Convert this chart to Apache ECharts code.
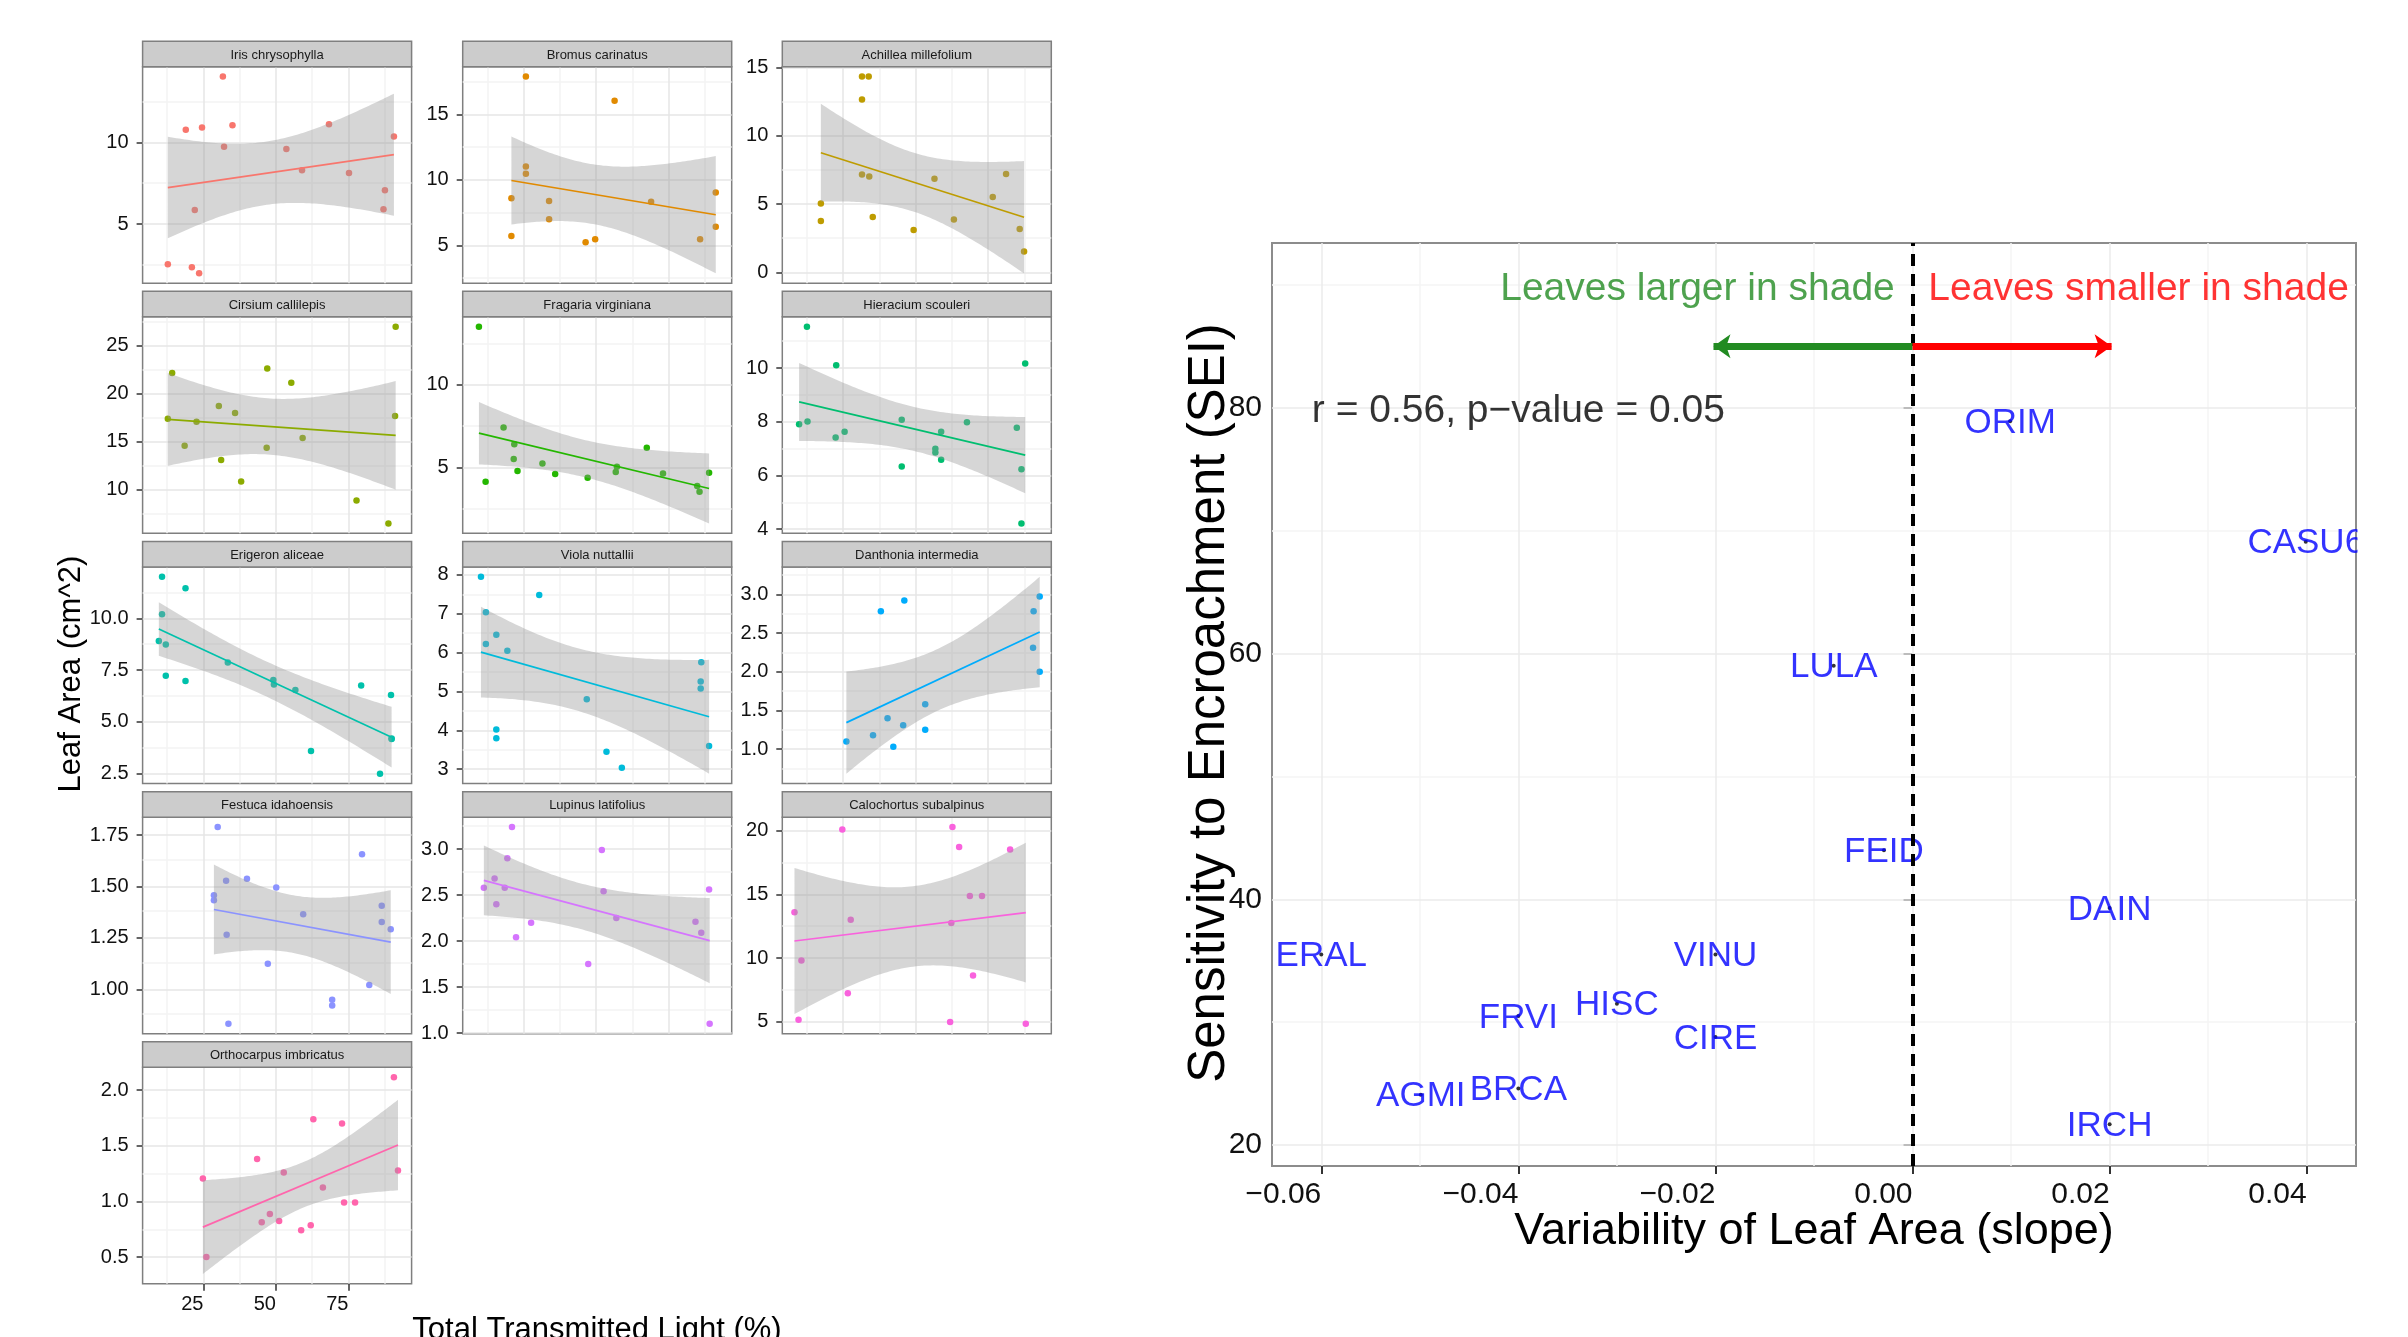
<!DOCTYPE html>
<html>
<head>
<meta charset="utf-8">
<title>Leaf area and light / sensitivity to encroachment</title>
<script src="https://cdn.jsdelivr.net/npm/echarts@6/dist/echarts.min.js"></script>
<style>
  html, body { margin: 0; padding: 0; background: #fff; overflow: hidden; }
  #main { width: 2408px; height: 1337px; }
</style>
</head>
<body>
<div id="main"></div>
<script>
// ---------- left: leaf area (cm^2) vs total transmitted light (%) ----------
const irisX = [12.7, 18.9, 21.0, 22.0, 23.5, 24.5, 31.7, 32.1, 35.0, 53.6, 59.0, 68.3, 75.2, 87.1, 87.6, 90.7];
const irisY = [2.53, 10.76, 2.35, 5.86, 1.98, 10.9, 14.02, 9.73, 11.04, 9.59, 8.29, 11.10, 8.12, 5.9, 7.06, 10.35];
const bromusX = [20.8, 20.8, 25.8, 25.8, 25.8, 33.8, 33.8, 46.4, 49.7, 56.4, 69.0, 85.9, 91.3, 91.3];
const bromusY = [5.71, 8.6, 17.9, 11.02, 10.48, 8.39, 6.99, 5.23, 5.46, 16.05, 8.34, 5.46, 9.03, 6.43];
const achilleaX = [17.3, 17.3, 31.5, 31.5, 31.5, 33.8, 34.0, 35.2, 49.3, 56.5, 63.2, 76.6, 81.2, 85.9, 87.4];
const achilleaY = [3.76, 5.05, 14.36, 12.67, 7.17, 14.36, 7.02, 4.05, 3.1, 6.86, 3.88, 5.52, 7.21, 3.17, 1.52];
const cirsiumX = [12.7, 14.2, 18.5, 22.6, 30.3, 31.1, 35.9, 38.0, 46.8, 47.0, 55.3, 59.2, 77.8, 88.8, 91.1, 91.3];
const cirsiumY = [17.36, 22.12, 14.55, 17.05, 18.68, 13.06, 17.95, 10.83, 14.34, 22.6, 21.11, 15.35, 8.85, 6.46, 17.64, 26.94];
const fragariaX = [9.6, 11.9, 18.1, 21.6, 21.8, 22.9, 31.5, 35.9, 47.1, 56.8, 57.2, 67.5, 73.1, 84.9, 85.7, 89.0];
const fragariaY = [13.52, 4.13, 7.41, 5.51, 6.4, 4.78, 5.24, 4.6, 4.37, 4.72, 5.04, 6.19, 4.62, 3.87, 3.52, 4.68];
const hieraciumX = [9.8, 12.5, 12.7, 22.4, 22.6, 25.5, 45.2, 45.2, 56.8, 56.8, 58.8, 58.8, 67.7, 84.9, 86.5, 86.5, 87.8];
const hieraciumY = [7.91, 11.54, 8.01, 7.41, 10.1, 7.63, 8.07, 6.33, 6.99, 6.85, 6.58, 7.63, 7.98, 7.78, 6.23, 4.21, 10.17];
const erigeronX = [9.6, 10.7, 10.7, 12.0, 12.0, 18.8, 18.8, 33.4, 49.1, 49.3, 56.7, 62.1, 79.4, 85.9, 89.7, 89.9, 89.9];
const erigeronY = [8.9, 12.0, 10.19, 8.73, 7.23, 11.45, 6.97, 7.86, 7.02, 6.8, 6.54, 3.59, 6.76, 2.5, 6.3, 4.2, 4.17];
const violaX = [10.3, 12.0, 12.0, 15.6, 15.6, 15.6, 19.4, 30.4, 46.8, 53.6, 58.9, 86.1, 86.1, 86.3, 89.0];
const violaY = [7.95, 7.04, 6.22, 6.46, 4.02, 3.8, 6.05, 7.48, 4.8, 3.45, 3.04, 5.26, 5.08, 5.75, 3.6];
const danthoniaX = [26.1, 35.3, 38.0, 40.3, 42.3, 45.7, 46.1, 53.3, 53.3, 90.5, 90.7, 92.8, 92.8];
const danthoniaY = [1.10, 1.18, 2.78, 1.40, 1.03, 1.31, 2.92, 1.58, 1.25, 2.31, 2.78, 2.97, 2.0];
const festucaX = [28.6, 28.6, 29.9, 32.8, 33.0, 33.6, 40.0, 47.2, 50.1, 59.4, 69.4, 69.4, 79.7, 82.2, 86.5, 86.5, 89.6];
const festucaY = [1.458, 1.433, 1.789, 1.528, 1.266, 0.833, 1.537, 1.125, 1.495, 1.365, 0.95, 0.922, 1.657, 1.021, 1.406, 1.328, 1.292];
const lupinusX = [11.3, 15.0, 15.6, 18.5, 19.4, 21.0, 22.4, 27.6, 47.3, 52.0, 52.6, 57.0, 84.3, 86.3, 89.0, 89.2];
const lupinusY = [2.58, 2.68, 2.4, 2.58, 2.9, 3.24, 2.04, 2.2, 1.75, 2.99, 2.54, 2.25, 2.21, 2.09, 2.56, 1.1];
const calochortusX = [8.2, 9.6, 10.6, 24.7, 26.6, 27.6, 61.9, 62.3, 62.7, 65.0, 68.7, 69.8, 72.9, 82.6, 88.0];
const calochortusY = [13.59, 5.16, 9.81, 20.1, 7.23, 13.01, 4.98, 12.75, 20.29, 18.71, 14.88, 8.63, 14.88, 18.53, 4.84];
const orthocarpusX = [24.8, 26.0, 43.5, 45.1, 47.9, 51.1, 52.7, 58.7, 62.0, 62.9, 66.2, 72.8, 73.5, 77.3, 90.7, 92.1];
const orthocarpusY = [1.206, 0.5, 1.381, 0.813, 0.888, 0.825, 1.26, 0.741, 0.786, 1.739, 1.125, 1.7, 0.99, 0.99, 2.117, 1.279];

const species = ['Iris chrysophylla', 'Bromus carinatus', 'Achillea millefolium', 'Cirsium callilepis',
  'Fragaria virginiana', 'Hieracium scouleri', 'Erigeron aliceae', 'Viola nuttallii', 'Danthonia intermedia',
  'Festuca idahoensis', 'Lupinus latifolius', 'Calochortus subalpinus', 'Orthocarpus imbricatus'];
const speciesColors = ['#F8766D', '#E18A00', '#BE9C00', '#8CAB00', '#24B700', '#00BE70', '#00C1AB',
  '#00BBDA', '#00ACFC', '#8B93FF', '#D575FE', '#F962DD', '#FF65AC'];
const lightVals = [irisX, bromusX, achilleaX, cirsiumX, fragariaX, hieraciumX, erigeronX, violaX,
  danthoniaX, festucaX, lupinusX, calochortusX, orthocarpusX];
const areaVals = [irisY, bromusY, achilleaY, cirsiumY, fragariaY, hieraciumY, erigeronY, violaY,
  danthoniaY, festucaY, lupinusY, calochortusY, orthocarpusY];
// y tick labels per panel (free y scales)
const areaTickLabels = [
  ['5', '10'], ['5', '10', '15'], ['0', '5', '10', '15'], ['10', '15', '20', '25'], ['5', '10'],
  ['4', '6', '8', '10'], ['2.5', '5.0', '7.5', '10.0'], ['3', '4', '5', '6', '7', '8'],
  ['1.0', '1.5', '2.0', '2.5', '3.0'], ['1.00', '1.25', '1.50', '1.75'],
  ['1.0', '1.5', '2.0', '2.5', '3.0'], ['5', '10', '15', '20'], ['0.5', '1.0', '1.5', '2.0']
];
const lightTicks = [25, 50, 75];
const lightMinor = [12.5, 37.5, 62.5, 87.5];
const LIGHT_MIN = 4.0, LIGHT_MAX = 96.8;

// ---------- right: sensitivity to encroachment vs slope ----------
const codes = ['ORIM', 'CASU6', 'LULA', 'FEID', 'DAIN', 'ERAL', 'VINU', 'HISC', 'FRVI', 'CIRE', 'AGMI', 'BRCA', 'IRCH'];
const slopes = [0.0099, 0.0399, -0.0080, -0.0029, 0.0200, -0.0600, -0.0200, -0.0300, -0.0400, -0.0200, -0.0499, -0.0400, 0.0200];
const sei = [78.9, 69.1, 59.0, 44.0, 39.3, 35.5, 35.5, 31.5, 30.5, 28.8, 24.1, 24.6, 21.7];
const slopeTicks = [-0.06, -0.04, -0.02, 0, 0.02, 0.04];
const slopeTickLabels = ['\u22120.06', '\u22120.04', '\u22120.02', '0.00', '0.02', '0.04'];
const slopeMinor = [-0.05, -0.03, -0.01, 0.01, 0.03];
const seiTicks = [20, 40, 60, 80];
const seiMinor = [30, 50, 70, 90];

const FONT = '"Liberation Sans", Arial, sans-serif';
// t(0.975, df) for the 95% confidence band
const T975 = {9: 2.262, 10: 2.228, 11: 2.201, 12: 2.179, 13: 2.160, 14: 2.145, 15: 2.131, 16: 2.120};

// ordinary least squares + 95% CI band, like geom_smooth(method = "lm")
function fitLine(xs, ys) {
  const n = xs.length;
  const mx = xs.reduce((a, b) => a + b, 0) / n;
  const my = ys.reduce((a, b) => a + b, 0) / n;
  let sxx = 0, sxy = 0;
  xs.forEach((x, k) => { sxx += (x - mx) * (x - mx); sxy += (x - mx) * (ys[k] - my); });
  const b = sxy / sxx, a = my - b * mx;
  let sse = 0;
  xs.forEach((x, k) => { const r = ys[k] - a - b * x; sse += r * r; });
  const s = Math.sqrt(sse / (n - 2)), t = T975[n - 2] || 2.1;
  const x0 = Math.min(...xs), x1 = Math.max(...xs);
  const band = [];
  for (let k = 0; k <= 80; k++) {
    const x = x0 + (x1 - x0) * k / 80;
    const fit = a + b * x;
    const se = s * Math.sqrt(1 / n + (x - mx) * (x - mx) / sxx);
    band.push([x, fit - t * se, fit + t * se]);
  }
  return {a, b, x0, x1, band};
}

const COL_LEFT = [142.6, 462.7, 782.3];
const PANEL_W = 269, PANEL_H = 216.5, ROW_TOP = 66.7, ROW_STEP = 250.15, STRIP_H = 25.5;

const grids = [], xAxes = [], yAxes = [], series = [], graphics = [];

function gridLineItems(xMinor, xMajor, yMinor, yMajor, minorColor, majorColor) {
  const out = [];
  xMinor.forEach(v => out.push({xAxis: v, lineStyle: {color: minorColor, width: 1.5, type: 'solid'}}));
  yMinor.forEach(v => out.push({yAxis: v, lineStyle: {color: minorColor, width: 1.5, type: 'solid'}}));
  xMajor.forEach(v => out.push({xAxis: v, lineStyle: {color: majorColor, width: 1.5, type: 'solid'}}));
  yMajor.forEach(v => out.push({yAxis: v, lineStyle: {color: majorColor, width: 1.5, type: 'solid'}}));
  return out;
}

species.forEach((name, i) => {
  const xs = lightVals[i], ys = areaVals[i], color = speciesColors[i];
  const fit = fitLine(xs, ys);
  const col = i % 3, row = Math.floor(i / 3);
  const left = COL_LEFT[col], top = ROW_TOP + row * ROW_STEP;
  const isBottom = i === species.length - 1;

  // y range: data + ribbon, expanded 5% like ggplot
  let lo = Math.min(...ys), hi = Math.max(...ys);
  fit.band.forEach(p => { lo = Math.min(lo, p[1]); hi = Math.max(hi, p[2]); });
  const pad = (hi - lo) * 0.05;
  lo -= pad; hi += pad;

  const labels = areaTickLabels[i];
  const ticks = labels.map(Number);
  const step = ticks[1] - ticks[0];
  const minor = [ticks[0] - step / 2].concat(ticks.map(t => t + step / 2)).filter(v => v > lo && v < hi);

  grids.push({left, top, width: PANEL_W, height: PANEL_H, show: true, z: 0, backgroundColor: '#FFFFFF',
    borderColor: '#7F7F7F', borderWidth: 1.5, containLabel: false});
  xAxes.push({
    gridIndex: i, type: 'value', min: LIGHT_MIN, max: LIGHT_MAX,
    axisLine: {show: false}, splitLine: {show: false},
    axisTick: {show: isBottom, customValues: lightTicks, length: 7, lineStyle: {color: '#333', width: 1.5}},
    axisLabel: {show: isBottom, customValues: lightTicks, align: 'right', fontSize: 20, margin: 11,
      color: '#111', fontFamily: FONT}
  });
  yAxes.push({
    gridIndex: i, type: 'value', min: lo, max: hi,
    axisLine: {show: false}, splitLine: {show: false},
    axisTick: {show: true, customValues: ticks, length: 6, lineStyle: {color: '#333', width: 1.5}},
    axisLabel: {customValues: ticks, fontSize: 20, margin: 14, color: '#111', fontFamily: FONT,
      padding: [3, 0, 0, 0],
      formatter: v => { const k = ticks.findIndex(t => Math.abs(t - v) < 1e-9); return k < 0 ? '' : labels[k]; }}
  });

  series.push({
    type: 'scatter', xAxisIndex: i, yAxisIndex: i, data: [], silent: true, z: 1,
    markLine: {silent: true, z: 1, symbol: ['none', 'none'], label: {show: false}, animation: false,
      data: gridLineItems(lightMinor, lightTicks, minor, ticks, '#F3F3F3', '#E6E6E6')}
  });
  series.push({
    type: 'scatter', xAxisIndex: i, yAxisIndex: i, z: 2, symbolSize: 6.5,
    itemStyle: {color: color, opacity: 1, borderWidth: 0},
    data: xs.map((x, k) => [x, ys[k]])
  });
  series.push({
    type: 'custom', xAxisIndex: i, yAxisIndex: i, z: 3, silent: true,
    data: [[fit.x0, fit.a + fit.b * fit.x0]],
    renderItem: (params, api) => {
      const upper = fit.band.map(p => api.coord([p[0], p[2]]));
      const lower = fit.band.slice().reverse().map(p => api.coord([p[0], p[1]]));
      return {type: 'polygon', shape: {points: upper.concat(lower)},
        style: {fill: 'rgba(153,153,153,0.4)'}};
    }
  });
  series.push({
    type: 'line', xAxisIndex: i, yAxisIndex: i, z: 4, showSymbol: false, silent: true,
    lineStyle: {color: color, width: 1.7},
    data: [[fit.x0, fit.a + fit.b * fit.x0], [fit.x1, fit.a + fit.b * fit.x1]]
  });

  // facet strip
  graphics.push({type: 'rect', z: 10,
    shape: {x: left, y: top - STRIP_H, width: PANEL_W, height: STRIP_H},
    style: {fill: '#CCCCCC', stroke: '#7F7F7F', lineWidth: 1.5}});
  graphics.push({type: 'text', z: 11, x: left + PANEL_W / 2, y: top - STRIP_H / 2 + 1,
    style: {text: name, fontSize: 13, fontFamily: FONT, fill: '#1A1A1A', align: 'center', verticalAlign: 'middle'}});
});

// ---------- right panel ----------
const R = species.length;
grids.push({left: 1272, top: 243, width: 1084, height: 923, show: true, z: 0, backgroundColor: '#FFFFFF',
  borderColor: '#8C8C8C', borderWidth: 2, containLabel: false});
xAxes.push({
  gridIndex: R, type: 'value', min: -0.065, max: 0.045,
  axisLine: {show: false}, splitLine: {show: false},
  axisTick: {show: true, customValues: slopeTicks, length: 8, lineStyle: {color: '#333', width: 2}},
  axisLabel: {customValues: slopeTicks, align: 'right', fontSize: 30, margin: 14, color: '#111', fontFamily: FONT,
    formatter: v => { const k = slopeTicks.findIndex(t => Math.abs(t - v) < 1e-9); return k < 0 ? '' : slopeTickLabels[k]; }}
});
yAxes.push({
  gridIndex: R, type: 'value', min: 18.3, max: 93.4,
  axisLine: {show: false}, splitLine: {show: false},
  axisTick: {show: true, customValues: seiTicks, length: 9, lineStyle: {color: '#333', width: 2}},
  axisLabel: {customValues: seiTicks, fontSize: 30, margin: 10, color: '#111', fontFamily: FONT,
    padding: [6, 0, 0, 0]}
});
series.push({
  type: 'scatter', xAxisIndex: R, yAxisIndex: R, data: [], silent: true, z: 1,
  markLine: {silent: true, z: 1, symbol: ['none', 'none'], label: {show: false}, animation: false,
    data: gridLineItems(slopeMinor, slopeTicks, seiMinor, seiTicks, '#F5F5F5', '#EBEBEB')}
});
// zero line and the two direction arrows
const ARROW_Y = 85, ARROW_LEN = 0.0202;
series.push({
  type: 'scatter', xAxisIndex: R, yAxisIndex: R, data: [], silent: true, z: 6,
  markLine: {silent: true, z: 6, label: {show: false}, animation: false, symbol: ['none', 'none'],
    data: [
      {xAxis: 0, lineStyle: {color: '#000', width: 4, type: [12, 8]}},
      [{coord: [0, ARROW_Y], symbol: 'none', lineStyle: {color: '#228B22', width: 7, type: 'solid'}},
       {coord: [-ARROW_LEN, ARROW_Y], symbol: 'arrow', symbolSize: [18, 17]}],
      [{coord: [0, ARROW_Y], symbol: 'none', lineStyle: {color: '#FF0000', width: 7, type: 'solid'}},
       {coord: [ARROW_LEN, ARROW_Y], symbol: 'arrow', symbolSize: [18, 17]}]
    ]}
});
series.push({
  type: 'scatter', xAxisIndex: R, yAxisIndex: R, z: 4, symbolSize: 4,
  itemStyle: {color: '#000', borderWidth: 0},
  label: {show: true, position: 'inside', color: '#0000FF', fontSize: 35, fontFamily: FONT,
    textBorderWidth: 0, offset: [0, 2], formatter: p => p.data[2]},
  data: codes.map((c, k) => [slopes[k], sei[k], c])
});
const annoFont = {fontSize: 39, fontFamily: FONT, textBorderWidth: 0, offset: [0, 4]};
series.push({
  type: 'scatter', xAxisIndex: R, yAxisIndex: R, z: 5, symbolSize: 0, silent: true,
  label: {show: true, position: 'inside'},
  data: [
    {value: [-0.04, 80], label: Object.assign({formatter: 'r = 0.56, p\u2212value = 0.05', align: 'center', color: '#000'}, annoFont)},
    {value: [-0.0018, 90], label: Object.assign({formatter: 'Leaves larger in shade', align: 'right', color: '#228B22'}, annoFont)},
    {value: [0.0016, 90], label: Object.assign({formatter: 'Leaves smaller in shade', align: 'left', color: '#FF0000'}, annoFont)}
  ]
});

// titles
graphics.push({type: 'text', z: 11, x: 71.7, y: 674, rotation: Math.PI / 2,
  style: {text: 'Leaf Area (cm^2)', fontSize: 31, fontFamily: FONT, fill: '#000', align: 'center', verticalAlign: 'middle'}});
graphics.push({type: 'text', z: 11, x: 597, y: 1330,
  style: {text: 'Total Transmitted Light (%)', fontSize: 31, fontFamily: FONT, fill: '#000', align: 'center', verticalAlign: 'middle'}});
graphics.push({type: 'text', z: 11, x: 1210, y: 703, rotation: Math.PI / 2,
  style: {text: 'Sensitivity to Encroachment (SEI)', fontSize: 51, fontFamily: FONT, fill: '#000', align: 'center', verticalAlign: 'middle'}});
graphics.push({type: 'text', z: 11, x: 1814, y: 1232,
  style: {text: 'Variability of Leaf Area (slope)', fontSize: 45, fontFamily: FONT, fill: '#000', align: 'center', verticalAlign: 'middle'}});
// panel clipping of the right-most label
graphics.push({type: 'rect', z: 100, shape: {x: 2357.5, y: 230, width: 60, height: 950}, style: {fill: '#FFFFFF'}});

const chart = echarts.init(document.getElementById('main'), null, {renderer: 'canvas'});
chart.setOption({
  animation: false,
  backgroundColor: '#FFFFFF',
  textStyle: {fontFamily: FONT},
  grid: grids,
  xAxis: xAxes,
  yAxis: yAxes,
  series: series,
  graphic: {elements: graphics}
});
</script>
</body>
</html>
